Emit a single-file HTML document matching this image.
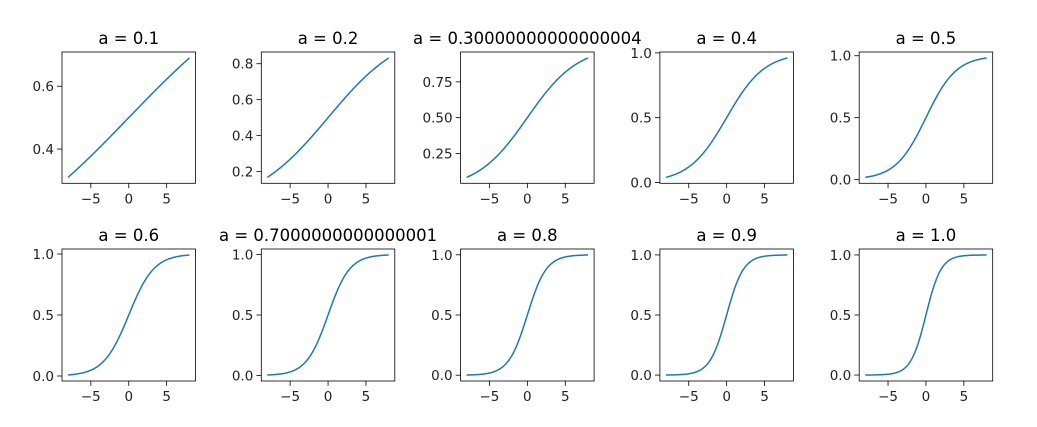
<!DOCTYPE html>
<html><head><meta charset="utf-8"><style>
html,body{margin:0;padding:0;background:#fff;}
svg{display:block;font-family:"DejaVu Sans","Liberation Sans",sans-serif;}
.t{font-size:16.5px;fill:#000;text-anchor:middle}
.k{font-size:13.5px;fill:#222}
</style></head><body>
<svg id="s" width="1037" height="427" viewBox="0 0 1037 427" xmlns="http://www.w3.org/2000/svg">
<g id="p0"><text class="t">a = 0.1</text><text class="k">−5</text><text class="k">0</text><text class="k">5</text><text class="k">0.4</text><text class="k">0.6</text></g>
<g id="p1"><text class="t">a = 0.2</text><text class="k">−5</text><text class="k">0</text><text class="k">5</text><text class="k">0.2</text><text class="k">0.4</text><text class="k">0.6</text><text class="k">0.8</text></g>
<g id="p2"><text class="t">a = 0.30000000000000004</text><text class="k">−5</text><text class="k">0</text><text class="k">5</text><text class="k">0.25</text><text class="k">0.50</text><text class="k">0.75</text></g>
<g id="p3"><text class="t">a = 0.4</text><text class="k">−5</text><text class="k">0</text><text class="k">5</text><text class="k">0.0</text><text class="k">0.5</text><text class="k">1.0</text></g>
<g id="p4"><text class="t">a = 0.5</text><text class="k">−5</text><text class="k">0</text><text class="k">5</text><text class="k">0.0</text><text class="k">0.5</text><text class="k">1.0</text></g>
<g id="p5"><text class="t">a = 0.6</text><text class="k">−5</text><text class="k">0</text><text class="k">5</text><text class="k">0.0</text><text class="k">0.5</text><text class="k">1.0</text></g>
<g id="p6"><text class="t">a = 0.7000000000000001</text><text class="k">−5</text><text class="k">0</text><text class="k">5</text><text class="k">0.0</text><text class="k">0.5</text><text class="k">1.0</text></g>
<g id="p7"><text class="t">a = 0.8</text><text class="k">−5</text><text class="k">0</text><text class="k">5</text><text class="k">0.0</text><text class="k">0.5</text><text class="k">1.0</text></g>
<g id="p8"><text class="t">a = 0.9</text><text class="k">−5</text><text class="k">0</text><text class="k">5</text><text class="k">0.0</text><text class="k">0.5</text><text class="k">1.0</text></g>
<g id="p9"><text class="t">a = 1.0</text><text class="k">−5</text><text class="k">0</text><text class="k">5</text><text class="k">0.0</text><text class="k">0.5</text><text class="k">1.0</text></g>
</svg>
<script>
var NS="http://www.w3.org/2000/svg";
var yt=[[0.4,0.6],[0.2,0.4,0.6,0.8],[0.25,0.5,0.75],[0,0.5,1],[0,0.5,1],[0,0.5,1],[0,0.5,1],[0,0.5,1],[0,0.5,1],[0,0.5,1]];
function S(z){return 1/(1+Math.exp(-z));}
function el(g,n,a){var e=document.createElementNS(NS,n);for(var k in a)e.setAttribute(k,a[k]);g.appendChild(e);return e;}
for(var i=0;i<10;i++){
 var a=(i+1)/10, c=i%5, r=Math.floor(i/5);
 var L=62+c*199.3, R=L+133.5, T=r?249:52, B=r?381:183.3, W=R-L, H=B-T;
 var g=document.getElementById("p"+i);
 var y0=S(-8*a), y1=S(8*a), d=y1-y0, lo=y0-0.05*d, hi=y1+0.05*d;
 var X=function(v){return L+(v+8.8)/17.6*W;}, Y=function(v){return B-(v-lo)/(hi-lo)*H;};
 var pts=[];for(var j=0;j<=200;j++){var x=-8+16*j/200;pts.push(X(x).toFixed(2)+","+Y(S(a*x)).toFixed(2));}
 el(g,"polyline",{points:pts.join(" "),fill:"none",stroke:"#1f77b4","stroke-width":1.5});
 el(g,"rect",{x:L,y:T,width:W,height:H,fill:"none",stroke:"#000","stroke-width":0.8});
 var tx=g.querySelectorAll("text");
 tx[0].setAttribute("x",(L+R)/2);tx[0].setAttribute("y",T-8);
 [-5,0,5].forEach(function(v,k){var px=X(v);el(g,"line",{x1:px,x2:px,y1:B,y2:B+4.9,stroke:"#000","stroke-width":0.8});
  var t=tx[1+k];t.setAttribute("x",px);t.setAttribute("y",B+20);t.setAttribute("text-anchor","middle");});
 yt[i].forEach(function(v,k){var py=Y(v);el(g,"line",{x1:L-4.9,x2:L,y1:py,y2:py,stroke:"#000","stroke-width":0.8});
  var t=tx[4+k];t.setAttribute("x",L-8);t.setAttribute("y",py+5);t.setAttribute("text-anchor","end");});
}
</script>
</body></html>
